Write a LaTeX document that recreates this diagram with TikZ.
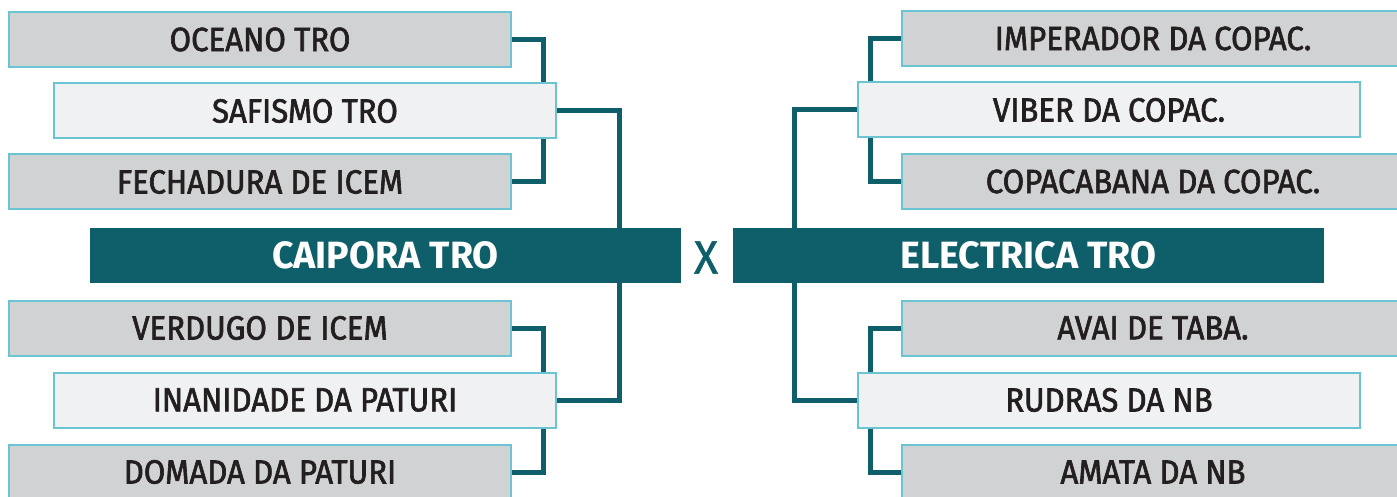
\documentclass[tikz,border=0pt]{standalone}
\usepackage{fontspec}
\setmainfont{Fira Sans}[FakeStretch=0.93,FakeBold=1.9]
\newfontfamily\boldf{Fira Sans Bold}[FakeStretch=0.99]
\newfontfamily\xf{Fira Sans}[FakeStretch=0.95,FakeBold=1]
\usetikzlibrary{backgrounds}
\definecolor{teal1}{HTML}{0E5F6A}
\definecolor{boxgray}{HTML}{D1D2D4}
\definecolor{boxlight}{HTML}{F0F1F3}
\definecolor{edge}{HTML}{6AC4D2}
\definecolor{txt}{HTML}{231F20}
\tikzset{
  team/.style={draw=edge, line width=2pt, minimum width=502pt, minimum height=55pt,
    inner sep=0pt, text=txt, font=\fontsize{33.5}{33.5}\selectfont},
  graybox/.style={team, fill=boxgray},
  lightbox/.style={team, fill=boxlight},
  finalist/.style={fill=teal1, minimum width=591pt, minimum height=55pt, inner sep=0pt,
    text=white, font=\boldf\fontsize{38}{38}\selectfont},
  link/.style={draw=teal1, line width=5pt},
}
\begin{document}
\begin{tikzpicture}[x=1pt,y=-1pt]
\useasboundingbox (0,0) rectangle (1397,497);
\clip (0,0) rectangle (1397,497);
% left
\node[graybox]  (oceano)  at (260,39.5) {OCEANO TRO};
\node[lightbox] (safismo) at (305,111)  {SAFISMO TRO};
\node[graybox]  (fecha)   at (260,182)  {FECHADURA DE ICEM};
\node[finalist] (caipora) at (385.5,255.5) {CAIPORA TRO};
\node[graybox]  (verdugo) at (260,328)  {VERDUGO DE ICEM};
\node[lightbox] (inan)    at (305,400)  {INANIDADE DA PATURI};
\node[graybox]  (domada)  at (260,472)  {DOMADA DA PATURI};
% right
\node[graybox]  (imper)   at (1153,38.5) {IMPERADOR DA COPAC.};
\node[lightbox] (viber)   at (1109,110)  {VIBER DA COPAC.};
\node[graybox]  (copa)    at (1153,181.5) {COPACABANA DA COPAC.};
\node[finalist] (electrica) at (1028.5,255.5) {ELECTRICA TRO};
\node[graybox]  (avai)    at (1153,328)  {AVAI DE TABA.};
\node[lightbox] (rudras)  at (1109,400)  {RUDRAS DA NB};
\node[graybox]  (amata)   at (1153,472)  {AMATA DA NB};
% X
\node[text=teal1, font=\xf\fontsize{47}{47}\selectfont, inner sep=0pt] (vs) at (706,257.5) {X};
% junction columns
\coordinate (jl) at (543,0);
\coordinate (jc) at (619.5,0);
\coordinate (jr) at (870.5,0);
\coordinate (jm) at (794.5,0);
\begin{scope}[on background layer]
\draw[link] (oceano.east) -| (safismo.north -| jl);
\draw[link] (fecha.east) -| (safismo.south -| jl);
\draw[link] (safismo.east) -| (caipora.north -| jc);
\draw[link] (verdugo.east) -| (inan.north -| jl);
\draw[link] (domada.east) -| (inan.south -| jl);
\draw[link] (inan.east) -| (caipora.south -| jc);
\draw[link] (imper.west) -| (viber.north -| jr);
\draw[link] (copa.west) -| (viber.south -| jr);
\draw[link] (viber.west) -| (electrica.north -| jm);
\draw[link] (avai.west) -| (rudras.north -| jr);
\draw[link] (amata.west) -| (rudras.south -| jr);
\draw[link] (rudras.west) -| (electrica.south -| jm);
\end{scope}
\end{tikzpicture}
\end{document}
